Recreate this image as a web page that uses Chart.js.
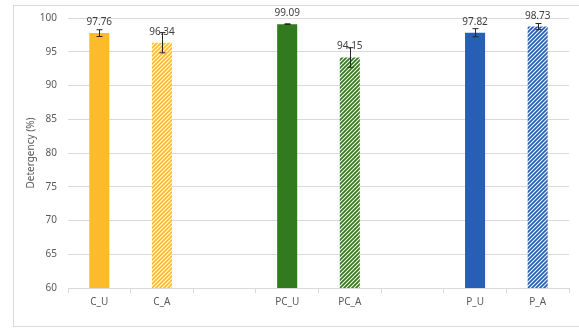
<!DOCTYPE html>
<html>
<head>
<meta charset="utf-8">
<script src="https://cdn.jsdelivr.net/npm/chart.js@4"></script>
<style>
  html, body { margin: 0; padding: 0; background: #fff; }
  #wrap { width: 579px; height: 328px; }
</style>
</head>
<body>
<div id="wrap"><canvas id="chart"></canvas></div>
<script>
const categories = ["C_U", "C_A", "", "PC_U", "PC_A", "", "P_U", "P_A"];
const detergency = [97.76, 96.34, null, 99.09, 94.15, null, 97.82, 98.73];
const errors = [0.5, 1.5, null, 0.05, 1.45, null, 0.6, 0.45];
const hatched = [false, true, false, false, true, false, false, true];
const yTicks = [60, 65, 70, 75, 80, 85, 90, 95, 100];

const gold = "#fcbb2b";
const green = "#327a1e";
const blue = "#275fb5";
const barColors = [gold, gold, null, green, green, null, blue, blue];

function stripes(color) {
  const c = document.createElement("canvas");
  c.width = 4;
  c.height = 4;
  const g = c.getContext("2d");
  g.fillStyle = "#fff";
  g.fillRect(0, 0, 4, 4);
  g.strokeStyle = color;
  g.lineWidth = 1.8;
  g.beginPath();
  g.moveTo(-1, 1); g.lineTo(1, -1);
  g.moveTo(0, 4); g.lineTo(4, 0);
  g.moveTo(3, 5); g.lineTo(5, 3);
  g.stroke();
  return g.createPattern(c, "repeat");
}

function fills() {
  return barColors.map((c, i) => (c && hatched[i] ? stripes(c) : c));
}

const frame = {
  id: "frame",
  beforeDraw(chart) {
    const ctx = chart.ctx;
    ctx.save();
    ctx.strokeStyle = "#d9d9d9";
    ctx.lineWidth = 1;
    ctx.strokeRect(13.5, 5.5, 600, 321);
    ctx.restore();
  },
};

const errorBars = {
  id: "errorBars",
  afterDatasetsDraw(chart) {
    const ctx = chart.ctx;
    const y = chart.scales.y;
    const meta = chart.getDatasetMeta(0);
    ctx.save();
    meta.data.forEach((bar, i) => {
      const v = detergency[i];
      if (v == null) return;
      const x = Math.round(bar.x) + 0.5;
      const e = errors[i];
      const top = y.getPixelForValue(v + e);
      const bot = y.getPixelForValue(v - e);
      ctx.strokeStyle = "#262626";
      ctx.lineWidth = 1;
      ctx.beginPath();
      ctx.moveTo(x, top); ctx.lineTo(x, bot);
      ctx.moveTo(x - 3, top); ctx.lineTo(x + 3, top);
      ctx.moveTo(x - 3, bot); ctx.lineTo(x + 3, bot);
      ctx.stroke();
      ctx.fillStyle = "#404040";
      ctx.font = "10px 'Noto Sans'";
      ctx.textAlign = "center";
      ctx.textBaseline = "alphabetic";
      ctx.fillText(v.toFixed(2), bar.x, y.getPixelForValue(v) - 8);
    });
    ctx.restore();
  },
};

new Chart(document.getElementById("chart").getContext("2d"), {
  type: "bar",
  data: {
    labels: categories,
    datasets: [
      {
        label: "Detergency",
        data: detergency,
        backgroundColor: fills(),
        borderWidth: 0,
        categoryPercentage: 1,
        barPercentage: 0.32,
      },
    ],
  },
  options: {
    responsive: true,
    maintainAspectRatio: false,
    animation: false,
    layout: { padding: { left: 0, right: 10, top: 18, bottom: 0 } },
    plugins: {
      legend: { display: false },
      tooltip: { enabled: false },
    },
    scales: {
      x: {
        afterFit: (s) => { s.height = 40; },
        grid: {
          offset: true,
          drawOnChartArea: false,
          drawTicks: true,
          tickLength: 5,
          color: "#d9d9d9",
        },
        border: { color: "#d9d9d9" },
        ticks: {
          color: "#595959",
          padding: 3,
          font: { family: "'Noto Sans'", size: 10 },
        },
      },
      y: {
        min: 60,
        max: 100,
        afterFit: (s) => { s.width = 68; },
        afterBuildTicks: (s) => { s.ticks = yTicks.map((v) => ({ value: v })); },
        grid: { color: "#d9d9d9", drawTicks: false },
        border: { display: false },
        ticks: {
          color: "#595959",
          padding: 11,
          font: { family: "'Noto Sans'", size: 10 },
        },
        title: {
          display: true,
          text: "Detergency (%)",
          color: "#595959",
          padding: { top: 25, bottom: 0 },
          font: { family: "'Noto Sans'", size: 10 },
        },
      },
    },
  },
  plugins: [frame, errorBars],
});
</script>
</body>
</html>
